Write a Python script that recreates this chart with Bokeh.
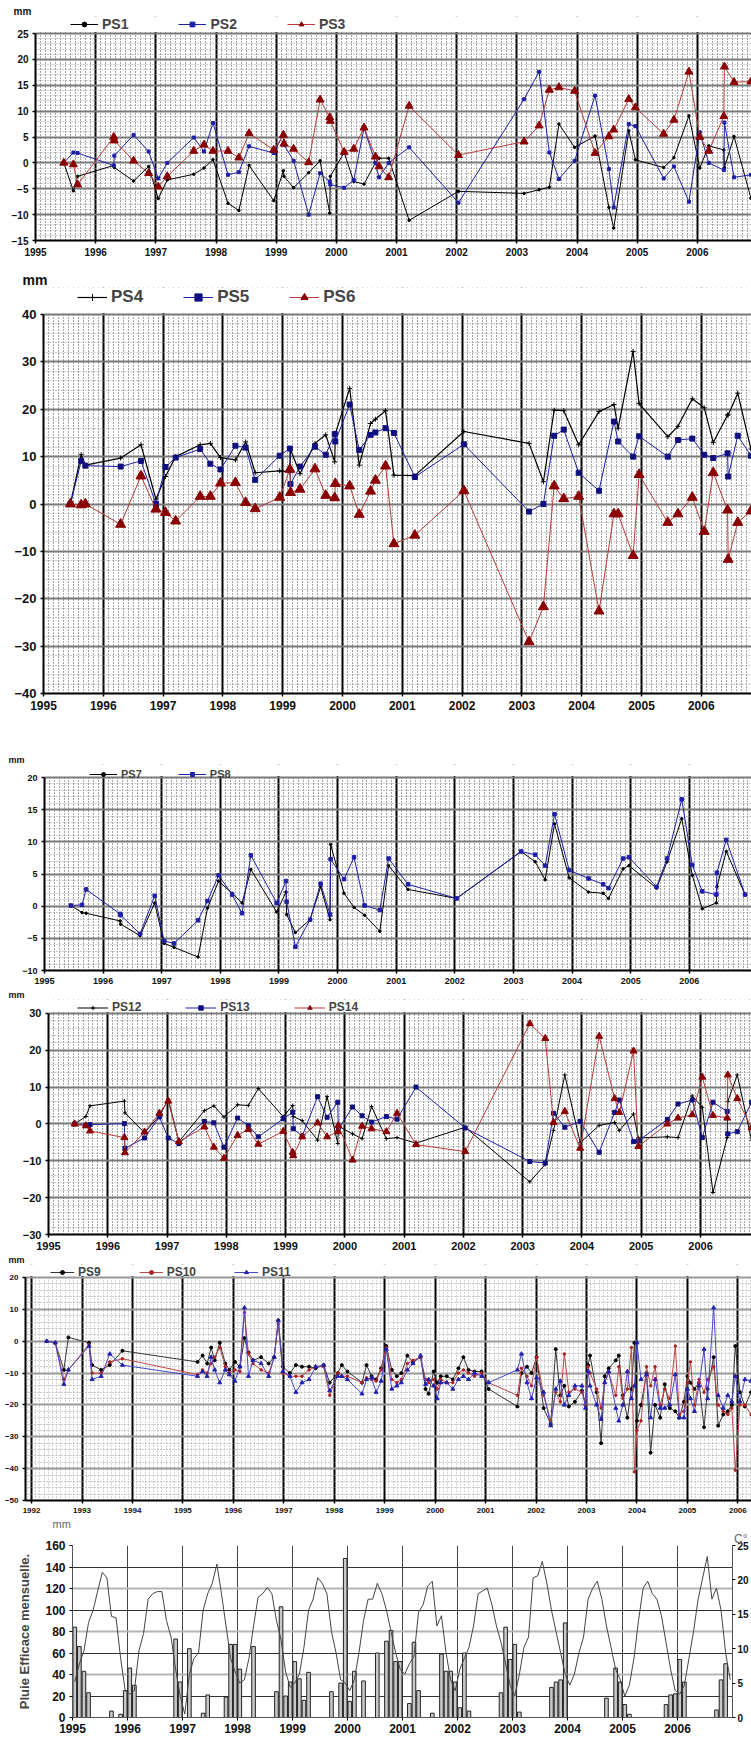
from bokeh.plotting import figure
from bokeh.models import (Range1d, LinearAxis, SingleIntervalTicker, FixedTicker, Grid,
                          Legend, LegendItem, Title, BoxAnnotation)
from bokeh.layouts import column
from bokeh.embed import file_html
from bokeh.resources import INLINE

FONT = "Liberation Sans"

# ---------------- Panel 1 : PS1, PS2, PS3 (mm) ----------------
dates_1 = [1995.47, 1995.63, 1995.70, 1996.30, 1996.31, 1996.63, 1996.88, 1997.04, 1997.19, 1997.63,
           1997.80, 1997.95, 1998.20, 1998.38, 1998.55, 1998.96, 1999.12, 1999.13, 1999.29, 1999.54,
           1999.73, 1999.89, 1999.90, 2000.13, 2000.29, 2000.46, 2000.65, 2000.71, 2000.87, 2001.21,
           2002.03, 2003.12, 2003.37, 2003.54, 2003.70, 2003.96, 2004.30, 2004.53, 2004.61, 2004.86,
           2004.97, 2005.44, 2005.61, 2005.86, 2006.04, 2006.19, 2006.44, 2006.45, 2006.61, 2006.89]
ps1 = [0, -5.4, -2.6, -0.5, -0.9, -3.5, -0.7, -6.9, -3.3, -2.2,
       -1.0, 0.6, -7.8, -9.2, -0.5, -7.3, -1.5, -2.6, -4.8, -1.9,
       0.4, -9.7, -2.6, 2.0, -3.6, -4.1, 0.0, 0.9, 0.9, -11.1,
       -5.5, -5.9, -5.2, -4.7, 7.5, 3.0, 5.2, -8.6, -12.6, 6.2,
       0.6, -0.9, 1.0, 9.1, -1.0, 3.3, 2.5, -0.9, 5.1, -6.8]
ps2 = [0, 2.0, 1.9, -0.5, 1.4, 5.4, 2.2, -3.0, 0.0, 4.9,
       2.2, 7.7, -2.3, -1.8, 3.2, 1.9, 5.5, 3.5, 0.4, -10.0,
       -2.0, -3.6, -4.2, -4.8, -3.3, 6.7, 0.0, -2.8, 0.0, 3.0,
       -7.7, 12.3, 17.6, 2.0, -3.1, 0.4, 13.0, -1.2, -8.6, 7.5,
       7.1, -3.0, -0.7, -7.5, 5.9, 0.0, -1.4, 7.8, -2.8, -2.3]
ps3 = [0, -0.3, -4.2, 5.0, 4.3, 0.4, -2.0, -4.6, -2.6, 2.3,
       3.5, 2.3, 2.3, 1.0, 5.7, 2.5, 5.4, 3.7, 2.7, 0.1,
       12.2, 8.8, 8.1, 2.1, 2.7, 6.8, 1.2, -0.7, -2.8, 11.0,
       1.5, 4.1, 7.2, 14.1, 14.6, 13.9, 1.9, 5.1, 6.4, 12.3,
       10.7, 5.6, 8.3, 17.6, 5.0, 2.3, 9.0, 18.6, 15.6, 15.7]

# ---------------- Panel 2 : PS4, PS5, PS6 (mm) ----------------
dates_2 = [1995.45, 1995.63, 1995.70, 1996.29, 1996.63, 1996.88, 1997.04, 1997.21, 1997.62, 1997.79,
           1997.96, 1998.21, 1998.38, 1998.54, 1998.95, 1999.12, 1999.13, 1999.29, 1999.54, 1999.72,
           1999.87, 1999.88, 2000.12, 2000.28, 2000.47, 2000.55, 2000.72, 2000.86, 2001.21, 2002.03,
           2003.12, 2003.36, 2003.54, 2003.70, 2003.95, 2004.29, 2004.54, 2004.61, 2004.86, 2004.96,
           2005.44, 2005.61, 2005.85, 2006.05, 2006.20, 2006.44, 2006.45, 2006.61, 2006.83]
ps4 = [0, 10.4, 8.2, 9.7, 12.5, 1.0, 5.8, 10.0, 12.5, 12.8,
       9.8, 9.3, 13.1, 6.6, 7.0, 6.8, 11.5, 6.4, 12.8, 14.6,
       8.9, 14.8, 24.4, 8.2, 17.0, 17.9, 19.7, 6.1, 6.0, 15.3,
       12.8, 4.7, 19.8, 19.7, 12.5, 19.5, 21.0, 16.0, 32.2, 21.2,
       14.2, 16.4, 22.2, 20.3, 13.0, 18.8, 18.8, 23.4, 11.6]
ps5 = [0, 9.1, 8.1, 7.9, 9.1, 0, 7.8, 9.8, 11.6, 8.5,
       7.3, 12.3, 11.9, 5.1, 10.2, 11.7, 4.2, 7.9, 12.1, 10.4,
       14.8, 13.2, 21.0, 11.4, 14.6, 15.1, 16.0, 15.0, 5.7, 12.6,
       -1.6, 0.0, 14.4, 15.7, 6.6, 2.8, 17.4, 13.2, 10.0, 14.3,
       10.0, 13.5, 13.8, 10.4, 9.7, 10.7, 5.8, 14.4, 10.2]
ps6 = [0, -0.2, 0, -4.3, 5.9, -1.1, -1.8, -3.6, 1.6, 1.6,
       4.4, 4.5, 0.3, -1.0, 1.4, 7.3, 2.4, 3.1, 7.4, 1.8,
       1.3, 4.3, 3.8, -2.2, 2.7, 5.0, 8.0, -8.4, -6.6, 2.8,
       -29.1, -21.7, 3.8, 1.1, 1.6, -22.6, -2.1, -2.1, -10.9, 6.2,
       -3.9, -2.1, 1.4, -5.8, 6.6, -1.3, -11.7, -3.9, -1.5]

# ---------------- Panel 3 : PS7, PS8 (mm) ----------------
dates_3 = [1995.45, 1995.64, 1995.71, 1996.29, 1996.30, 1996.63, 1996.88, 1997.04, 1997.21, 1997.62,
           1997.78, 1997.97, 1998.20, 1998.37, 1998.52, 1998.96, 1999.12, 1999.13, 1999.28, 1999.53,
           1999.71, 1999.87, 1999.88, 2000.11, 2000.28, 2000.46, 2000.72, 2000.87, 2001.20, 2002.03,
           2003.13, 2003.37, 2003.54, 2003.70, 2003.95, 2004.28, 2004.53, 2004.62, 2004.87, 2004.97,
           2005.44, 2005.62, 2005.87, 2006.05, 2006.22, 2006.46, 2006.47, 2006.63, 2006.95]
ps7 = [0.1, -1.0, -1.1, -2.3, -2.8, -4.6, 0.5, -5.8, -6.4, -7.9,
       -0.3, 3.9, 2.0, 0.5, 5.7, -0.9, 2.2, -1.3, -4.1, -2.1,
       3.0, -2.1, 9.6, 2.0, -0.2, -1.4, -3.9, 6.3, 2.6, 1.2,
       8.5, 6.9, 4.1, 12.8, 4.4, 2.2, 2.0, 1.2, 5.8, 6.3,
       2.8, 6.9, 13.6, 4.8, -0.4, 0.5, 3.0, 8.5, 1.8]
ps8 = [0.1, 0.2, 2.6, -1.2, -1.4, -4.3, 1.6, -5.4, -5.8, -2.2,
       0.8, 4.8, 1.8, -1.1, 7.9, 0.5, 3.9, 0.7, -6.3, -2.1,
       3.5, -1.3, 7.3, 4.2, 7.6, 0.1, -0.6, 7.4, 3.4, 1.2,
       8.5, 8.0, 6.3, 14.3, 5.6, 4.3, 3.4, 2.8, 7.4, 7.6,
       3.0, 7.4, 16.6, 6.4, 2.3, 1.8, 5.2, 10.3, 1.8]

# ---------------- Panel 4 : PS12, PS13, PS14 (mm) ----------------
dates_4 = [1995.44, 1995.63, 1995.70, 1996.28, 1996.29, 1996.62, 1996.87, 1997.02, 1997.20, 1997.63,
           1997.79, 1997.96, 1998.19, 1998.37, 1998.54, 1998.96, 1999.12, 1999.13, 1999.28, 1999.54,
           1999.70, 1999.88, 1999.89, 2000.13, 2000.29, 2000.45, 2000.70, 2000.88, 2001.20, 2002.03,
           2003.12, 2003.38, 2003.52, 2003.71, 2003.97, 2004.29, 2004.55, 2004.63, 2004.87, 2004.95,
           2005.44, 2005.62, 2005.86, 2006.03, 2006.21, 2006.45, 2006.46, 2006.62, 2006.86]
ps12 = [0, 2.0, 4.9, 6.2, 3.0, -2.4, 2.2, 6.7, -4.8, 3.6,
        4.9, 1.9, 5.2, 5.0, 9.6, 2.0, 5.0, 2.0, 0.9, -4.4,
        7.4, -5.3, -0.6, -2.7, -4.0, 4.7, -4.0, -3.7, -5.2, -0.9,
        -15.7, -11.0, -1.8, 13.3, -5.1, -0.4, 0.4, -1.8, 2.7, -3.8,
        -3.5, -3.7, 7.6, 4.5, -18.6, -3.7, 6.1, 13.3, -4.4]
ps13 = [0, -0.4, -0.2, 0.1, -6.6, -3.8, 1.9, -3.8, -5.3, 0.7,
        0.3, -6.3, 1.6, -0.4, -3.5, 1.4, 3.2, -1.3, -3.3, 7.4,
        1.8, 5.9, -1.5, 4.6, 2.2, 0.5, 2.0, 1.3, 10.0, -1.1,
        -10.2, -10.6, 2.9, -0.9, 0.7, -7.7, 3.1, 6.5, -4.8, -4.6,
        1.2, 5.4, 6.5, -3.7, 5.9, 3.4, -2.7, -2.1, 5.9]
ps14 = [0, -0.5, -1.9, -3.7, -7.8, -2.2, 2.9, 6.2, -4.8, -0.8,
        -6.3, -9.3, -3.1, -1.5, -5.5, -2.0, -7.7, -8.6, -3.5, 0.3,
        -3.5, -2.1, -0.4, -9.8, -0.6, -1.3, -2.1, 2.9, -5.6, -7.5,
        27.2, 23.2, 0.4, 3.4, -6.6, 23.8, 6.9, 3.1, 19.8, -6.1,
        0.0, 1.6, 2.5, 12.7, 2.3, 1.6, 13.3, 6.9, -1.1]

# ---------------- Panel 5 : PS9, PS10, PS11 (mm) ----------------
dates_5 = [1992.30, 1992.47, 1992.64, 1992.73, 1993.14, 1993.20, 1993.38, 1993.55, 1993.80,
           1995.29, 1995.39, 1995.48, 1995.56, 1995.63, 1995.73, 1995.84, 1995.92, 1996.03, 1996.13,
           1996.22, 1996.30, 1996.39, 1996.55, 1996.70, 1996.81, 1996.89, 1996.98,
           1997.12, 1997.24, 1997.36, 1997.50, 1997.63, 1997.79, 1997.91, 1998.07, 1998.15, 1998.26,
           1998.55, 1998.64, 1998.74, 1998.83, 1998.93,
           1999.03, 1999.14, 1999.24, 1999.33, 1999.45, 1999.56, 1999.71, 1999.81, 1999.87, 1999.97,
           2000.04, 2000.11, 2000.23, 2000.35, 2000.46, 2000.56, 2000.66, 2000.78, 2000.92, 2001.06,
           2001.63, 2001.71, 2001.82, 2001.91, 2002.01, 2002.15, 2002.29, 2002.39, 2002.48, 2002.56,
           2002.65, 2002.77, 2002.91, 2002.98,
           2003.03, 2003.07, 2003.20, 2003.29, 2003.36, 2003.44, 2003.58, 2003.64, 2003.72, 2003.81,
           2003.89, 2003.95, 2004.00, 2004.08, 2004.19, 2004.27, 2004.36, 2004.46, 2004.55, 2004.65,
           2004.76, 2004.84, 2004.93,
           2005.00, 2005.06, 2005.14, 2005.23, 2005.33, 2005.40, 2005.52, 2005.61, 2005.71, 2005.80,
           2005.88, 2005.95, 2006.04, 2006.14, 2006.26]
ps9 = [0, -0.5, -9, 1.2, -0.5, -7.5, -9, -7.5, -3,
       -6.5, -4.5, -7, -2, -6, -0.5, -7, -9, -6.5, -8,
       1, -3.5, -6, -5, -7, -5, 6.5, -8,
       -10, -7.5, -8, -8, -8.5, -7.5, -13, -10, -7.5, -9.5,
       -13, -7.5, -11, -12, -8.5,
       -1.5, -9, -11, -10, -4.5, -6.5, -5, -15, -16.5, -9.5,
       -13, -11, -11, -12, -8.5, -5, -9, -9.5, -9.5, -15,
       -20.5, -10, -8, -10, -5, -21, -26, -2.5, -17, -14,
       -20.5, -19, -15.5, -20,
       -7.5, -4.5, -16, -32, -11, -8.5, -6, -4.5, -17, -24,
       -15, -0.5, -25, -20, -10, -35, -20, -24, -13.5, -21,
       -22, -24, -19,
       -11, -13, -15, -13, -27, -15, -5, -26.5, -23, -22,
       -20, -1.5, -16, -20.5, -16]
ps10 = [0, -0.5, -12, -9, -1, -10, -10, -6.5, -5.5,
        -10.5, -9, -10, -7, -5, -2, -8, -10, -9, -9.5,
        9, -4, -7, -9, -10, -5, 5.5, -10,
        -11, -11, -11, -9, -8, -8, -17, -10, -11, -11,
        -13, -11.5, -12, -12.5, -9,
        -2, -12, -13, -12, -7, -6, -5, -12, -13, -12,
        -15, -12, -13, -13, -10, -9, -10, -11, -10, -13,
        -17, -8.5, -11, -14, -5, -17, -25, -16, -19, -4,
        -16, -15, -16, -20,
        -8, -10, -15, -21, -13, -10, -17, -8, -18, -15,
        -2, -41, -28, -25, -8, -14, -8, -20, -15, -18,
        -1.5, -23, -22,
        -13, -6.5, -20, -12, -16, -12, -8, -20, -22, -23,
        -21, -40.5, -20, -20, -23]
ps11 = [0, -0.5, -13.5, -9, -1.5, -12, -11, -4, -7.5,
        -11, -9.5, -11, -5, -9, -13, -9, -10.5, -12.5, -8,
        10.5, -11, -6, -7, -11, -5, 6.5, -9.5,
        -11, -16, -13, -12, -8, -7.5, -15.5, -11, -11, -12,
        -16.5, -12, -11.5, -16, -12.5,
        -2.5, -15, -14, -13, -9, -7, -4.5, -13.5, -12, -14,
        -18, -13, -13, -15, -12, -11, -12, -10, -11, -13,
        -9, -4, -13, -18, -11.5, -16, -26.5, -15, -12.5, -20,
        -17, -14, -14, -21,
        -9.5, -14, -20, -24.5, -13, -9.5, -21, -25, -20, -9.5,
        -18, -14, -0.5, -12, -10.5, -24, -12, -21, -21, -20,
        -10.5, -24, -24,
        -15, -18, -22, -14, -2.5, -18, 10.5, -17, -21, -17,
        -19, -11, -19, -12, -12.5]

# ---------------- Panel 6 : monthly effective rain (mm) and temperature (C) ----------------
rain_years = list(range(1995, 2007))
rain_monthly = [84, 66, 43, 23, 0, 0, 0, 0, 6, 0, 3, 25,      # 1995
                46, 30, 0, 0, 0, 0, 0, 0, 0, 0, 73, 33,       # 1996
                0, 64, 0, 0, 4, 21, 0, 0, 0, 19, 68, 68,      # 1997
                45, 0, 0, 66, 0, 0, 0, 0, 24, 103, 20, 33,    # 1998
                52, 36, 16, 42, 0, 0, 0, 0, 24, 0, 32, 148,   # 1999
                15, 43, 0, 34, 0, 0, 60, 0, 71, 81, 52, 52,   # 2000
                0, 13, 70, 25, 0, 0, 4, 0, 59, 43, 43, 33,    # 2001
                9, 60, 6, 0, 0, 0, 0, 0, 0, 23, 84, 54,       # 2002
                68, 5, 0, 0, 0, 0, 0, 0, 28, 33, 35, 88,      # 2003
                0, 0, 0, 0, 0, 0, 0, 0, 18, 0, 46, 33,        # 2004
                12, 3, 0, 0, 0, 0, 0, 0, 0, 12, 21, 22,       # 2005
                54, 33, 0, 0, 0, 0, 0, 0, 7, 35, 50, 0]       # 2006
temp_monthly = [5.2, 7.8, 9.7, 13.8, 15.6, 18.4, 21.1, 20.3, 14.7, 14.5, 8.6, 3.9,
                3.4, 3.9, 9.7, 12.2, 17.2, 18.0, 18.3, 18.3, 14.1, 11.7, 7.0, 3.1,
                0.5, 6.3, 8.6, 9.4, 15.6, 18.0, 19.5, 22.3, 18.0, 13.3, 8.6, 6.6,
                5.0, 5.5, 8.6, 13.3, 17.5, 18.0, 18.9, 18.0, 14.1, 11.3, 6.6, 4.4,
                5.0, 6.3, 10.2, 15.6, 17.2, 20.3, 19.5, 18.0, 12.5, 9.4, 5.5, 5.0,
                3.9, 5.5, 9.4, 14.1, 17.2, 17.2, 19.5, 18.0, 15.6, 12.5, 9.4, 7.0,
                6.3, 7.8, 8.9, 15.3, 16.4, 19.1, 19.8, 13.3, 14.8, 9.4, 5.5, 3.9,
                7.0, 8.6, 10.2, 13.3, 18.0, 18.4, 18.8, 16.4, 13.3, 10.9, 7.8, 4.7,
                3.1, 6.3, 10.2, 11.7, 20.3, 20.6, 22.7, 19.5, 15.6, 12.5, 9.4, 6.3,
                4.7, 6.3, 9.4, 11.7, 17.2, 18.8, 19.8, 17.2, 13.3, 10.2, 7.0, 5.5,
                3.1, 4.7, 8.6, 14.1, 18.8, 19.8, 18.0, 17.2, 14.8, 10.9, 7.0, 3.9,
                3.4, 4.7, 8.6, 12.5, 17.2, 20.3, 23.4, 17.2, 18.8, 15.6, 9.4, 5.5]

BLACK = "#000000"
BLUE = "#1f1fa8"
NAVY = "#101080"
RED_LINE = "#b83a3a"
RED_MARK = "#8b0000"
W = 751


def base(h, left, top, bottom, x0, x1, y0, y1, zone_px, data_px, yint, yminor, fs_y, fs_x,
         dark=True):
    ytop = y1 + zone_px * (y1 - y0) / data_px   # blank strip above the data area for the legend
    p = figure(width=W, height=h, x_range=Range1d(x0, x1), y_range=Range1d(y0, ytop),
               output_backend="svg", toolbar_location=None,
               min_border_left=left, min_border_right=0,
               min_border_top=top, min_border_bottom=bottom)
    p.frame_align = False
    p.outline_line_color = None
    p.xaxis.ticker = SingleIntervalTicker(interval=1, num_minor_ticks=12)
    p.yaxis.ticker = SingleIntervalTicker(interval=yint, num_minor_ticks=yminor)
    p.yaxis.bounds = (y0, y1)
    for ax, fs in ((p.xaxis[0], fs_x), (p.yaxis[0], fs_y)):
        ax.axis_line_width = 2
        ax.axis_line_color = "black"
        ax.major_tick_line_width = 1.5
        ax.major_tick_out = 3
        ax.major_tick_in = 0
        ax.minor_tick_line_color = None
        ax.major_label_text_font = FONT
        ax.major_label_text_font_style = "bold"
        ax.major_label_text_font_size = fs
        ax.major_label_text_color = "#111111"
        ax.major_label_standoff = 3
    p.xgrid.grid_line_color = "black"
    p.xgrid.grid_line_width = 2
    p.xgrid.minor_grid_line_color = "#222222" if dark else "#777777"
    p.xgrid.minor_grid_line_dash = "1 2"
    p.xgrid.minor_grid_line_alpha = 0.8
    p.ygrid.grid_line_color = "#7a7a7a"
    p.ygrid.grid_line_width = 2
    p.ygrid.minor_grid_line_color = "#9a9a9a"
    p.ygrid.minor_grid_line_dash = "1 2"
    p.add_layout(BoxAnnotation(bottom=y1 + 1.5 * (y1 - y0) / data_px, fill_color="white",
                               fill_alpha=1.0, line_alpha=0))
    return p


def series(p, x, y, name, color, mcolor, marker, size, lw=1.0):
    ln = p.line(x, y, line_color=color, line_width=lw)
    sc = p.scatter(x, y, marker=marker, size=size, line_color=mcolor, fill_color=mcolor)
    return LegendItem(label=name, renderers=[ln, sc])


def legend(p, items, x, y, fs, gh, gw, spacing):
    lg = Legend(items=items, orientation="horizontal", location=(x, y),
                border_line_color=None, background_fill_alpha=0,
                label_text_font=FONT, label_text_font_style="bold",
                label_text_font_size=fs, glyph_width=gw, glyph_height=gh,
                label_height=gh, spacing=spacing, padding=0, margin=0, label_standoff=4)
    p.add_layout(lg)


def top_text(p, text, offset, fs, standoff=0, color="#111111", style="bold", align="left"):
    p.add_layout(Title(text=text, align=align, offset=offset, standoff=standoff,
                       text_font=FONT, text_font_style=style, text_font_size=fs,
                       text_color=color), "above")


# Panel 1
p1 = base(258, 35, 16, 18, 1995, 2006.90, -15, 25, 17, 207, 5, 5, "10px", "10px")
it = [series(p1, dates_1, ps1, "PS1", BLACK, BLACK, "circle", 2.5),
      series(p1, dates_1, ps2, "PS2", BLUE, BLUE, "square", 3),
      series(p1, dates_1, ps3, "PS3", RED_LINE, RED_MARK, "triangle", 8)]
legend(p1, it, 35, 208, "14px", 12, 28, 50)
top_text(p1, "mm", -22, "10px")

# Panel 2
p2 = base(494, 43, 29, 59, 1995, 2006.84, -40, 40, 27, 379, 10, 5, "13px", "12px")
it = [series(p2, dates_2, ps4, "PS4", BLACK, BLACK, "cross", 5, 1.2),
      series(p2, dates_2, ps5, "PS5", BLUE, NAVY, "square", 5),
      series(p2, dates_2, ps6, "PS6", RED_LINE, RED_MARK, "triangle", 10)]
legend(p2, it, 34, 386, "17px", 18, 30, 40)
top_text(p2, "mm", -21, "14px")

# Panel 3
p3 = base(235, 44, 12, 17, 1995, 2007.06, -10, 20, 13, 193, 5, 5, "9px", "9px")
p3.xaxis.ticker = FixedTicker(ticks=list(range(1995, 2007)),
                              minor_ticks=[1995 + k / 12 for k in range(145)])
it = [series(p3, dates_3, ps7, "PS7", BLACK, BLACK, "circle", 2.5),
      series(p3, dates_3, ps8, "PS8", BLUE, BLUE, "square", 3.5)]
legend(p3, it, 45, 190, "11px", 10, 28, 36)
top_text(p3, "mm", -36, "9px")

# Panel 4
p4 = base(265, 48, 12, 16, 1995, 2006.86, -30, 30, 14, 223, 10, 5, "11px", "11px")
it = [series(p4, dates_4, ps12, "PS12", BLACK, BLACK, "cross", 4),
      series(p4, dates_4, ps13, "PS13", BLUE, NAVY, "square", 4),
      series(p4, dates_4, ps14, "PS14", RED_LINE, RED_MARK, "triangle", 7)]
legend(p4, it, 29, 220, "12px", 11, 31, 44)
top_text(p4, "mm", -40, "9px")

# Panel 5
p5 = base(263, 25, 12, 15, 1991.88, 2006.27, -50, 20, 13, 223, 10, 5, "8px", "8px", dark=False)
p5.xgrid.minor_grid_line_alpha = 0.6
p5.ygrid.grid_line_color = "#999999"
it = [series(p5, dates_5, ps9, "PS9", "#333333", BLACK, "circle", 3),
      series(p5, dates_5, ps10, "PS10", "#c04848", "#b02020", "circle", 2.5),
      series(p5, dates_5, ps11, "PS11", "#4848c8", "#2020b0", "triangle", 4)]
legend(p5, it, 25, 221, "12px", 10, 24, 38)
top_text(p5, "mm", -17, "9px")

# Panel 6
p6 = figure(width=W, height=227, x_range=Range1d(1995, 2007), y_range=Range1d(0, 160),
            output_backend="svg", toolbar_location=None,
            min_border_left=72, min_border_right=16, min_border_top=30, min_border_bottom=25)
p6.frame_align = False
p6.outline_line_color = None
p6.extra_y_ranges = {"temp": Range1d(0, 25)}
p6.xaxis.ticker = FixedTicker(ticks=rain_years)
p6.yaxis.ticker = SingleIntervalTicker(interval=20)
p6.xgrid.grid_line_color = "#444444"
p6.xgrid.grid_line_width = 1
p6.ygrid.grid_line_color = None
p6.add_layout(Grid(dimension=1, ticker=FixedTicker(ticks=[20, 60, 100, 140]),
                   grid_line_color="#333333", grid_line_width=1))
p6.add_layout(Grid(dimension=1, ticker=FixedTicker(ticks=[40, 80, 120, 160]),
                   grid_line_color="#b5b5b5", grid_line_width=2))
raxis = LinearAxis(y_range_name="temp", ticker=SingleIntervalTicker(interval=5))
p6.add_layout(raxis, "right")
for ax in (p6.xaxis[0], p6.yaxis[0], raxis):
    ax.axis_line_color = "#555555"
    ax.major_tick_out = 3
    ax.major_tick_in = 0
    ax.minor_tick_line_color = None
    ax.major_label_text_font = FONT
    ax.major_label_text_font_style = "bold"
    ax.major_label_text_font_size = "12px"
    ax.major_label_text_color = "#111111"
    ax.major_label_standoff = 3
raxis.major_label_text_font_size = "10px"
raxis.major_label_standoff = 1
p6.yaxis[0].axis_label = "Pluie Efficace mensuelle."
p6.yaxis[0].axis_label_text_font = FONT
p6.yaxis[0].axis_label_text_font_style = "bold"
p6.yaxis[0].axis_label_text_font_size = "13px"
p6.yaxis[0].axis_label_standoff = 10

bx = [y + (m + 0.5) / 12 for y in rain_years for m in range(12)]
bar_x = [x for x, v in zip(bx, rain_monthly) if v > 0]
bar_v = [v for v in rain_monthly if v > 0]
p6.vbar(x=bar_x, top=bar_v, bottom=0, width=0.066, fill_color="#c8c8c8",
        line_color="#222222", line_width=1)
p6.line(bx, temp_monthly, y_range_name="temp", line_color="#444444", line_width=1)
top_text(p6, "C°", -15, "12px", color="#666666", style="normal", align="right")
top_text(p6, "mm", -20, "11px", color="#666666", style="normal")

layout = column(p1, p2, p3, p4, p5, p6, spacing=0)
open("out.html", "w").write(file_html(layout, INLINE))
